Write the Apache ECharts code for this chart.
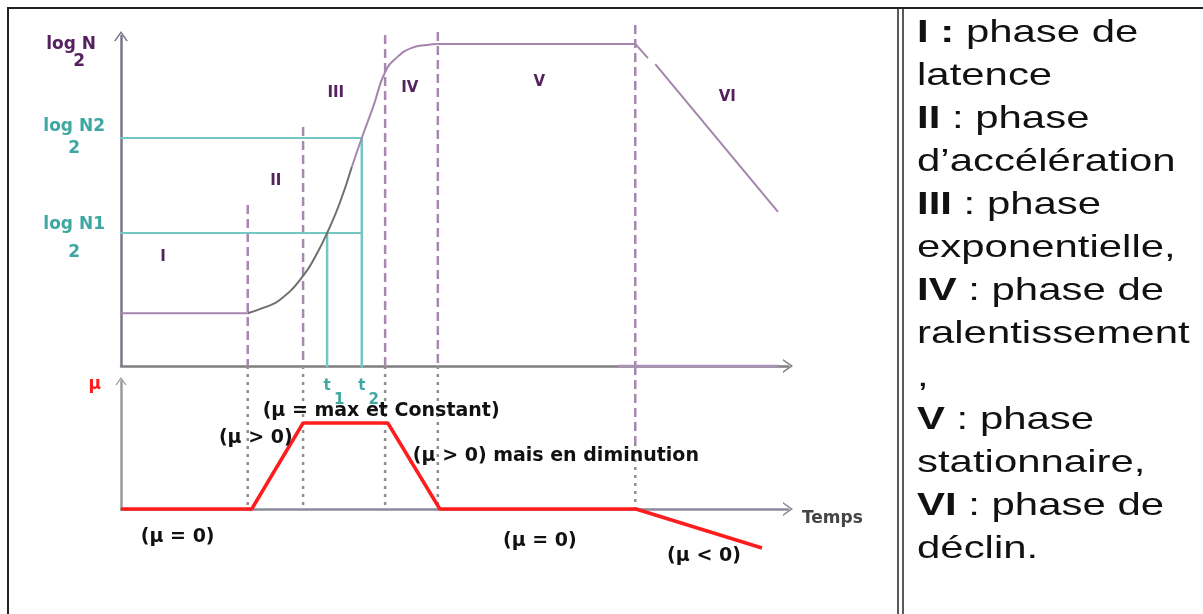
<!DOCTYPE html>
<html>
<head>
<meta charset="utf-8">
<title>Phases de croissance bactérienne</title>
<script src="https://cdn.jsdelivr.net/npm/echarts@6/dist/echarts.min.js"></script>
<style>
  html, body { margin: 0; padding: 0; background: #fff; }
  #chart { width: 1203px; height: 614px; }
</style>
</head>
<body>
<div id="chart"></div>
<script>
// courbe de croissance : temps (unités arbitraires) / log2 N (0-100)
const growthTime = [0, 19.0, 21.3, 23.8, 27.3, 29.4, 30.9, 32.8, 34.6, 36.1, 37.8, 39.6, 41.4, 43.6, 45.9, 47.5, 77.1, 79.0, 80.1, 98.5];
const growthLogN = [16, 16, 17.6, 20.0, 27.3, 34.2, 40.3, 49.4, 60.3, 69.1, 78.5, 89.1, 93.6, 96.4, 97.3, 97.6, 97.6, 93.3, 91.5, 46.7];

// taux de croissance μ
const muTime = [0, 19.6, 27.3, 40.0, 47.8, 77.2, 96.1];
const muValue = [0, 0, 67.2, 67.2, 0, 0, -30.5];

// limites des phases (haut des pointillés dans le graphe du haut)
const phaseLimits = [19.0, 27.3, 39.6, 47.5, 77.1];
const phaseLimitTop = [48.8, 72.4, 100.3, 101.2, 103.3];

// noms des phases
const phaseNames = ['I', 'II', 'III', 'IV', 'V', 'VI'];
const phaseNameX = [6.3, 23.2, 32.2, 43.3, 62.7, 90.9];
const phaseNameY = [33.0, 56.1, 82.7, 84.2, 86.1, 81.5];

// repères N1 / N2 et t1 / t2
const logN1 = 40.3, logN2 = 69.1;
const t1 = 30.9, t2 = 36.1;

// annotations du graphe de μ
const muNotes = ['(μ = max et Constant)', '(μ > 0)', '(μ > 0) mais en diminution', '(μ = 0)', '(μ = 0)', '(μ < 0)'];
const muNoteX = [39.0, 20.2, 65.2, 8.5, 62.8, 87.4];
const muNoteY = [76.6, 55.5, 41.4, -21.9, -25.0, -36.7];

// texte de droite
const legendLines = [
  '{b|I :} phase de',
  'latence',
  '{b|II} : phase',
  'd’accélération',
  '{b|III} : phase',
  'exponentielle,',
  '{b|IV} : phase de',
  'ralentissement',
  ',',
  '{b|V} : phase',
  'stationnaire,',
  '{b|VI} : phase de',
  'déclin.'
];

const purple = '#a585ad';
const dashPurple = '#a887b1';
const darkPurple = '#55215e';
const grey = '#6f6f6f';
const teal = '#74c8c3';
const tealText = '#3ea7a1';
const red = '#ff1c1c';
const axisGrey = '#7f7f7f';
const chevron = 'path://M0,10 L7,0 L14,10 L12.2,10 L7,2.6 L1.8,10 Z';

let chart = echarts.init(document.getElementById('chart'));

function pts(xs, ys, i, j) {
  let out = [];
  for (let k = i; k <= j; k++) out.push([xs[k], ys[k]]);
  return out;
}

function seg(data, color, extra) {
  return Object.assign({
    type: 'line', xAxisIndex: 0, yAxisIndex: 0, data: data,
    symbol: 'none', clip: false, silent: true, z: 5,
    lineStyle: { color: color, width: 2 }
  }, extra || {});
}

// pointillés du haut
let topDividers = phaseLimits.map((x, i) => ({
  type: 'line', xAxisIndex: 0, yAxisIndex: 0,
  data: [[x, phaseLimitTop[i]], [x, 0]],
  symbol: 'none', clip: false, silent: true, z: 2,
  lineStyle: { color: dashPurple, width: 2.5, type: [9, 5] }
}));

// pointillés du bas (111.7 = jonction avec l'axe du haut)
let bottomDividers = phaseLimits.map((x, i) => ({
  type: 'line', xAxisIndex: 1, yAxisIndex: 1,
  data: i === 4 ? [[x, 51.6], [x, 0]] : [[x, 111.7], [x, 0]],
  symbol: 'none', clip: false, silent: true, z: 2,
  lineStyle: { color: '#8f8f8f', width: 2.5, type: [3, 5] }
}));
bottomDividers.push({
  type: 'line', xAxisIndex: 1, yAxisIndex: 1,
  data: [[phaseLimits[4], 111.7], [phaseLimits[4], 51.6]],
  symbol: 'none', clip: false, silent: true, z: 2,
  lineStyle: { color: dashPurple, width: 2.5, type: [9, 5] }
});

let tealLines = [
  seg([[-0.9, logN2], [t2, logN2]], teal, { z: 3 }),
  seg([[-0.6, logN1], [t2, logN1]], teal, { z: 3 }),
  seg([[t1, logN1], [t1, -0.3]], teal, { z: 3, lineStyle: { color: teal, width: 2.5 } }),
  seg([[t2, logN2], [t2, -0.5]], teal, { z: 3, lineStyle: { color: teal, width: 2.5 } })
];

let curve = [
  seg(pts(growthTime, growthLogN, 0, 1), purple),
  seg(pts(growthTime, growthLogN, 1, 8), grey, { smooth: 0.5 }),
  seg(pts(growthTime, growthLogN, 8, 15), purple, { smooth: 0.5 }),
  seg(pts(growthTime, growthLogN, 15, 17), purple),
  seg(pts(growthTime, growthLogN, 18, 19), purple),
  // partie violette de l'axe du temps
  seg([[74.5, 0], [98.6, 0]], '#a890b6', { z: 4, lineStyle: { color: '#a890b6', width: 2.5 } })
];

let option = {
  backgroundColor: '#fff',
  animation: false,
  textStyle: { fontFamily: 'DejaVu Sans' },
  grid: [
    { left: 121, top: 36, width: 667, height: 330, outerBoundsMode: 'none' },
    { left: 121, top: 381, width: 667, height: 128, outerBoundsMode: 'none' }
  ],
  xAxis: [
    {
      type: 'value', gridIndex: 0, min: 0, max: 100,
      splitLine: { show: false }, axisTick: { show: false },
      axisLine: { show: true, symbol: ['none', chevron], symbolSize: [16, 10], lineStyle: { color: axisGrey, width: 2.5 } },
      axisLabel: {
        show: true, customValues: [t1, t2], margin: 13,
        formatter: v => v === t1 ? '{t|t}\n{s|1}' : '{t|t}\n{s|2}',
        rich: {
          t: { color: tealText, fontWeight: 'bold', fontSize: 15, lineHeight: 14, align: 'center', fontFamily: 'DejaVu Sans' },
          s: { color: tealText, fontWeight: 'bold', fontSize: 15, lineHeight: 14, align: 'center', padding: [0, 0, 0, 24], fontFamily: 'DejaVu Sans' }
        }
      }
    },
    {
      type: 'value', gridIndex: 1, min: 0, max: 100,
      splitLine: { show: false }, axisTick: { show: false }, axisLabel: { show: false },
      axisLine: { show: true, symbol: ['none', chevron], symbolSize: [16, 10], lineStyle: { color: '#8a8a9c', width: 2.5 } },
      name: 'Temps', nameLocation: 'end', nameGap: 14, nameMoveOverlap: false,
      nameTextStyle: { align: 'left', verticalAlign: 'top', padding: [1, 0, 0, 0], color: '#454545', fontWeight: 'bold', fontSize: 17, fontFamily: 'DejaVu Sans' }
    }
  ],
  yAxis: [
    {
      type: 'value', gridIndex: 0, min: 0, max: 100,
      splitLine: { show: false }, axisTick: { show: false },
      axisLine: { show: true, symbol: ['none', chevron], symbolSize: [16, 10], lineStyle: { color: '#77778a', width: 2.5 } },
      axisLabel: {
        show: true, customValues: [logN1, logN2], margin: 16,
        formatter: v => v === logN1 ? '{a1|log N1}\n{b1|2}' : '{a|log N2}\n{b|2}',
        rich: {
          a: { color: tealText, fontWeight: 'bold', fontSize: 17, lineHeight: 22, align: 'center', fontFamily: 'DejaVu Sans' },
          b: { color: tealText, fontWeight: 'bold', fontSize: 17, lineHeight: 22, align: 'center', fontFamily: 'DejaVu Sans' },
          a1: { color: tealText, fontWeight: 'bold', fontSize: 17, lineHeight: 40, align: 'center', fontFamily: 'DejaVu Sans' },
          b1: { color: tealText, fontWeight: 'bold', fontSize: 17, lineHeight: 16, align: 'center', fontFamily: 'DejaVu Sans' }
        }
      },
      name: '{a|log N}\n{b|2}', nameLocation: 'end', nameGap: -17, nameMoveOverlap: false,
      nameTextStyle: {
        align: 'right', verticalAlign: 'middle', padding: [0, 25, 0, 0],
        rich: {
          a: { color: darkPurple, fontWeight: 'bold', fontSize: 17, lineHeight: 17, align: 'center', fontFamily: 'DejaVu Sans' },
          b: { color: darkPurple, fontWeight: 'bold', fontSize: 17, lineHeight: 17, align: 'center', padding: [0, 0, 0, 16], fontFamily: 'DejaVu Sans' }
        }
      }
    },
    {
      type: 'value', gridIndex: 1, min: 0, max: 100,
      splitLine: { show: false }, axisTick: { show: false }, axisLabel: { show: false },
      axisLine: { show: true, symbol: ['none', chevron], symbolSize: [12, 8], lineStyle: { color: '#9a9a9a', width: 2.5 } },
      name: 'μ', nameLocation: 'end', nameGap: -4, nameMoveOverlap: false,
      nameTextStyle: { align: 'right', verticalAlign: 'middle', padding: [0, 20, 0, 0], color: red, fontWeight: 'bold', fontSize: 17, fontFamily: 'DejaVu Sans' }
    }
  ],
  series: [
    ...topDividers,
    ...bottomDividers,
    ...tealLines,
    ...curve,
    {
      type: 'line', xAxisIndex: 1, yAxisIndex: 1, name: 'μ',
      data: muTime.map((t, i) => [t, muValue[i]]),
      symbol: 'none', clip: false, silent: true, z: 6,
      lineStyle: { color: red, width: 3.5 }
    },
    {
      type: 'scatter', xAxisIndex: 0, yAxisIndex: 0, symbolSize: 0, silent: true, z: 7, clip: false,
      itemStyle: { opacity: 1 },
      data: phaseNames.map((n, i) => ({ name: n, value: [phaseNameX[i], phaseNameY[i]] })),
      label: { show: true, position: 'inside', formatter: '{b}', color: darkPurple, opacity: 1, fontWeight: 'bold', fontSize: 15, fontFamily: 'DejaVu Sans' }
    },
    {
      type: 'scatter', xAxisIndex: 1, yAxisIndex: 1, symbolSize: 0, silent: true, z: 7, clip: false,
      itemStyle: { opacity: 1 },
      data: muNotes.map((n, i) => ({ name: n, value: [muNoteX[i], muNoteY[i]] })),
      label: { show: true, position: 'inside', formatter: '{b}', color: '#111', opacity: 1, fontWeight: 'bold', fontSize: 19, fontFamily: 'DejaVu Sans' }
    }
  ],
  graphic: [
    { type: 'line', shape: { x1: 7, y1: 8, x2: 1203, y2: 8 }, style: { stroke: '#222', lineWidth: 2 } },
    { type: 'line', shape: { x1: 8, y1: 8, x2: 8, y2: 614 }, style: { stroke: '#222', lineWidth: 2 } },
    { type: 'line', shape: { x1: 898, y1: 8, x2: 898, y2: 614 }, style: { stroke: '#222', lineWidth: 1.5 } },
    { type: 'line', shape: { x1: 903, y1: 8, x2: 903, y2: 614 }, style: { stroke: '#222', lineWidth: 1.5 } },
    {
      type: 'text', x: 917, y: 12, scaleX: 1.31,
      style: {
        text: legendLines.join('\n'),
        fontFamily: 'Liberation Sans', fontSize: 32, lineHeight: 43, fill: '#111',
        align: 'left', verticalAlign: 'top',
        rich: {
          b: { fontFamily: 'Liberation Sans', fontSize: 32, lineHeight: 43, fontWeight: 'bold', fill: '#111' }
        }
      }
    }
  ]
};

chart.setOption(option);
</script>
</body>
</html>
